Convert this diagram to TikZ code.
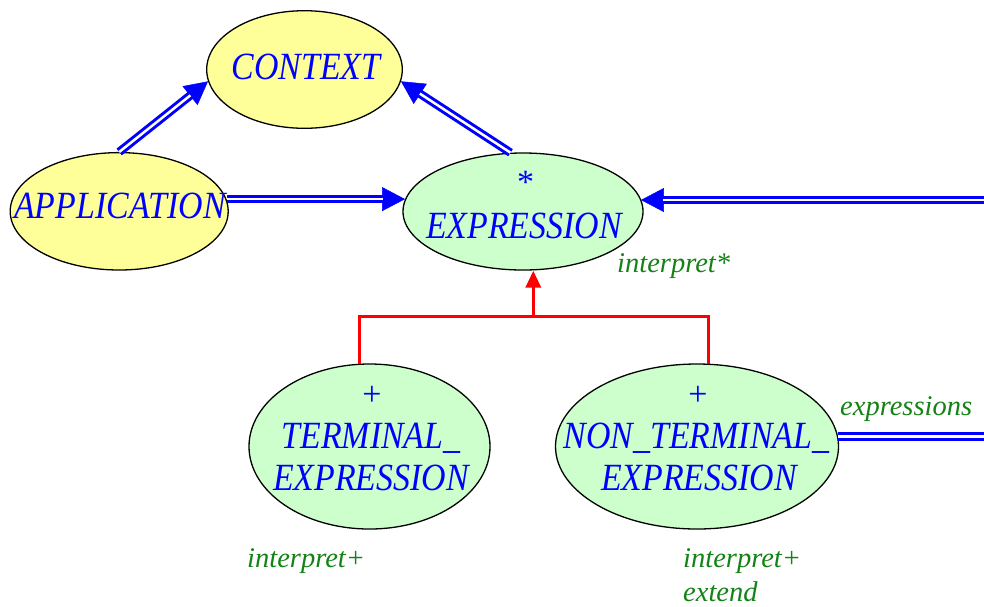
\documentclass[tikz,border=0pt]{standalone}
\usepackage{fontspec}
\setmainfont{Liberation Serif}
\newfontfamily\clsnamefont[FakeStretch=0.88]{Liberation Serif}
\usetikzlibrary{arrows.meta,shapes.geometric}
\definecolor{clsyellow}{RGB}{255,255,153}
\definecolor{clsgreen}{RGB}{204,255,204}
\definecolor{featgreen}{RGB}{20,130,20}
\tikzset{
  clsshape/.style={ellipse, draw=black, line width=1.3pt, inner sep=0pt},
  yclass/.style={clsshape, fill=clsyellow},
  gclass/.style={clsshape, fill=clsgreen},
  clsname/.style={inner sep=0pt, anchor=base, text=blue, font=\clsnamefont\fontsize{38.5}{44}\selectfont\itshape},
  clsmark/.style={inner sep=0pt, text=blue, font=\fontsize{34}{40}\selectfont},
  featlabel/.style={inner sep=0pt, anchor=base west, text=featgreen, font=\fontsize{28.5}{34}\selectfont\itshape},
  cli/.style={draw=blue, line width=3pt, double=white, double distance=2.5pt},
  clitip/.style={draw=blue, fill=blue, line width=0.5pt, -{Triangle[length=23pt,width=24pt]}},
  inh/.style={draw=red, line width=3.5pt},
  inhtip/.style={draw=red, fill=red, line width=3.5pt, -{Triangle[length=17pt,width=15pt]}}
}
\newcommand\cliarrow[2]{%
  \draw[clitip] (#1) -- (#2);
  \draw[cli, shorten >=22.5pt] (#1) -- (#2);}
\begin{document}
\begin{tikzpicture}[x=1pt,y=-1pt]
\useasboundingbox (0,0) rectangle (984,606);

% classes
\node[yclass, minimum width=195.6pt, minimum height=117.6pt] (ctx) at (304.5,69.5) {};
\node[yclass, minimum width=218pt, minimum height=117.4pt] (app) at (119.2,211.3) {};
\node[gclass, minimum width=240pt, minimum height=117pt] (expr) at (523,211.5) {};
\node[gclass, minimum width=241pt, minimum height=165pt] (term) at (369.5,446.5) {};
\node[gclass, minimum width=283pt, minimum height=165pt] (nt) at (697,446.5) {};

% class names
\node[clsname] (ctxname) at (306,79) {CONTEXT};
\node[clsname] (appname) at (120,218) {APPLICATION};
\node[clsmark, anchor=north] (exprmark) at (525.5,171) {*};
\node[clsname] (exprname) at (524,238) {EXPRESSION};
\node[clsmark, anchor=center] (termmark) at (372,396) {+};
\node[clsname] (termname1) at (371,448) {TERMINAL\_};
\node[clsname] (termname2) at (371,490) {EXPRESSION};
\node[clsmark, anchor=center] (ntmark) at (698,396) {+};
\node[clsname] (ntname1) at (696.5,448) {NON\_TERMINAL\_};
\node[clsname] (ntname2) at (699,490) {EXPRESSION};

% feature labels
\node[featlabel] (exprfeat) at (617,272) {interpret*};
\node[featlabel] (termfeat) at (247,567) {interpret+};
\node[featlabel] (ntfeat1) at (683,567) {interpret+};
\node[featlabel] (ntfeat2) at (683,601) {extend};
\node[featlabel] (ntlink) at (840,415) {expressions};

% client relations
\cliarrow{app.north}{ctx.187}
\cliarrow{expr.102}{ctx.-7}
\cliarrow{app.6 |- expr.174}{expr.174}
\coordinate (rin) at (984,200);
\cliarrow{rin}{rin -| expr.6}
\coordinate (rout) at (984,435);
\draw[cli] (nt.4) -- (nt.4 -| rout);

% inheritance
\coordinate (jn) at (533.3,316.7);
\draw[inh] (term.97) |- (jn) -| (nt.82);
\draw[inhtip] (jn) -- (jn |- expr.south);
\end{tikzpicture}
\end{document}
